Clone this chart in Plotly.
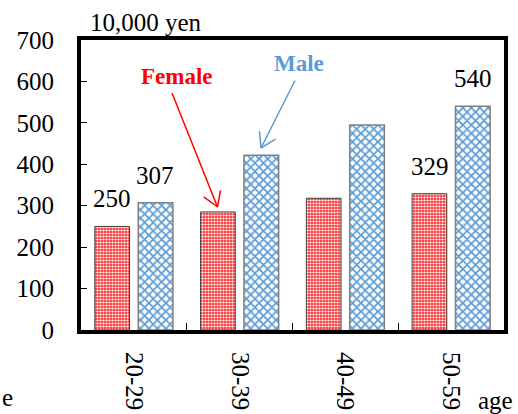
import math
import plotly.graph_objects as go

# Annual income by age group (unit: 10,000 yen)
age_groups = ["20-29", "30-39", "40-49", "50-59"]
female = [250, 285, 318, 329]
male = [307, 422, 495, 540]
y_ticks = [0, 100, 200, 300, 400, 500, 600, 700]

# groups whose values are printed above the bars
labelled = ["20-29", "50-59"]

W, H = 518, 414
L, R, T, B = 81, 14, 40, 84
plot_w = W - L - R
plot_h = H - T - B

SERIF = "Liberation Serif"
RED = "#FF0000"
BLUE = "#5B9BD5"


def pxx(px):
    return (px - L) / plot_w


def pxy(py):
    return 1 - (py - T) / plot_h


fig = go.Figure()
fig.add_trace(go.Bar(
    x=age_groups, y=female, name="Female",
    marker=dict(color=RED, line=dict(color="#404040", width=1),
                pattern=dict(shape=".", fgcolor="#FFE0E0", bgcolor=RED,
                             size=3, solidity=0.6, fillmode="replace")),
))
fig.add_trace(go.Bar(
    x=age_groups, y=male, name="Male",
    marker=dict(color="white", line=dict(color="#808080", width=1.5),
                pattern=dict(shape="x", fgcolor=BLUE, bgcolor="white",
                             size=6, solidity=0.5, fillmode="replace")),
))

annotations = []
for g, f, m in zip(age_groups, female, male):
    if g in labelled:
        for val, shift in ((f, -21.6), (m, 21.6)):
            annotations.append(dict(
                x=g, y=val, xref="x", yref="y", text=str(val), showarrow=False,
                xshift=shift, yanchor="bottom", yshift=12,
                font=dict(family=SERIF, size=25, color="black")))

annotations += [
    dict(x=pxx(88), y=pxy(22), xref="paper", yref="paper", text="10,000 yen",
         showarrow=False, xanchor="left", yanchor="middle",
         font=dict(family=SERIF, size=25, color="black")),
    dict(x=pxx(176.5), y=pxy(76), xref="paper", yref="paper", text="<b>Female</b>",
         showarrow=False, xanchor="center", yanchor="middle",
         font=dict(family=SERIF, size=23, color=RED)),
    dict(x=pxx(298.5), y=pxy(64), xref="paper", yref="paper", text="<b>Male</b>",
         showarrow=False, xanchor="center", yanchor="middle",
         font=dict(family=SERIF, size=23, color=BLUE)),
    dict(x=pxx(515), y=pxy(400), xref="paper", yref="paper", text="age",
         showarrow=False, xanchor="right", yanchor="middle",
         font=dict(family=SERIF, size=25, color="black")),
    dict(x=pxx(0), y=pxy(397), xref="paper", yref="paper", text="e",
         showarrow=False, xanchor="left", yanchor="middle",
         font=dict(family=SERIF, size=25, color="black")),
]


def open_arrow(tail, tip, color, arm=17, theta=32):
    """Straight callout line ending in an open V head."""
    shapes = [dict(type="line", xref="paper", yref="paper",
                   x0=pxx(tail[0]), y0=pxy(tail[1]), x1=pxx(tip[0]), y1=pxy(tip[1]),
                   line=dict(color=color, width=1.5))]
    ang = math.atan2(tail[1] - tip[1], tail[0] - tip[0])
    for s in (-1, 1):
        a = ang + s * math.radians(theta)
        ex, ey = tip[0] + arm * math.cos(a), tip[1] + arm * math.sin(a)
        shapes.append(dict(type="line", xref="paper", yref="paper",
                           x0=pxx(tip[0]), y0=pxy(tip[1]), x1=pxx(ex), y1=pxy(ey),
                           line=dict(color=color, width=1.5)))
    return shapes


shapes = open_arrow((172, 93), (217.5, 207), RED) + open_arrow((295, 80.5), (261, 148), BLUE)

fig.update_layout(
    width=W, height=H,
    margin=dict(l=L, r=R, t=T, b=B, pad=0),
    paper_bgcolor="white", plot_bgcolor="white",
    barmode="group", bargap=0.18, bargroupgap=0.2,
    showlegend=False,
    annotations=annotations,
    shapes=shapes,
    font=dict(family=SERIF),
    xaxis=dict(
        type="category", tickangle=90, showgrid=False, automargin=False,
        showline=True, linecolor="black", linewidth=4, mirror=True,
        ticks="inside", ticklen=7, tickcolor="black", tickwidth=1,
        tickson="boundaries", ticklabelstandoff=13,
        tickfont=dict(family=SERIF, size=25, color="black"),
    ),
    yaxis=dict(
        range=[0, 700], tickvals=y_ticks, showgrid=False, zeroline=False,
        automargin=False,
        showline=True, linecolor="black", linewidth=4, mirror=True,
        ticks="inside", ticklen=6, tickcolor="black", tickwidth=1,
        ticklabelstandoff=18,
        tickfont=dict(family=SERIF, size=25, color="black"),
    ),
)

fig.write_html("out.html")
